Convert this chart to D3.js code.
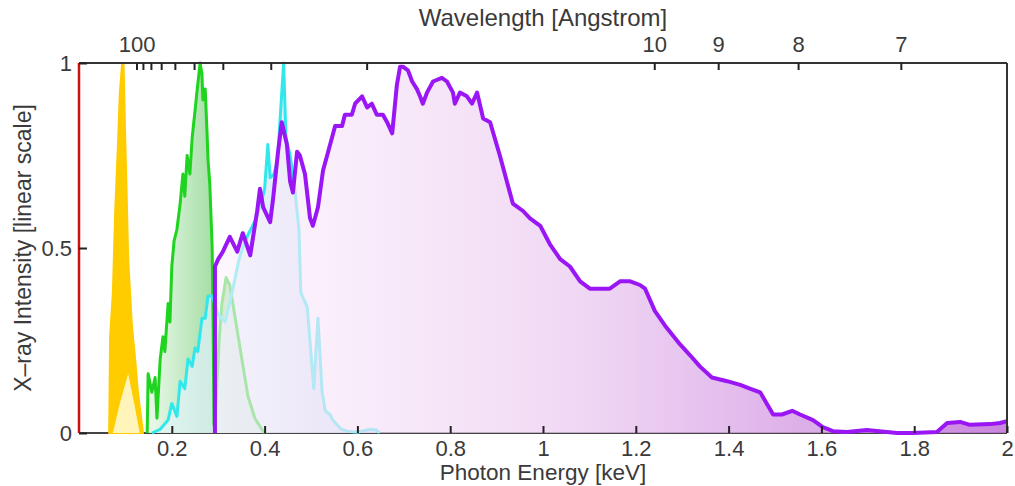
<!DOCTYPE html>
<html>
<head>
<meta charset="utf-8">
<script src="https://cdn.jsdelivr.net/npm/d3@7"></script>
<style>
  body { margin: 0; background: #fff; }
  svg text { font-family: "Liberation Sans", Arial, sans-serif; fill: #3a3a3a; }
</style>
</head>
<body>
<div id="chart"></div>
<script>
// photon energy [keV] vs relative intensity
var yellowOuter = [[0.065,0],[0.067,0.26],[0.073,0.38],[0.078,0.60],[0.084,0.78],[0.088,0.92],[0.093,1.0],
    [0.096,1.0],[0.099,0.83],[0.103,0.63],[0.106,0.47],[0.114,0.29],[0.121,0.20],[0.127,0.11],[0.138,0]];
var yellowInner = [[0.073,0],[0.088,0.08],[0.106,0.16],[0.119,0.08],[0.131,0]];

var green = [[0.147,0],[0.149,0.16],[0.157,0.11],[0.164,0.15],[0.168,0.04],[0.175,0.20],[0.181,0.26],
    [0.185,0.22],[0.192,0.35],[0.196,0.30],[0.200,0.45],[0.205,0.52],[0.211,0.55],[0.218,0.62],[0.224,0.70],
    [0.228,0.64],[0.233,0.75],[0.239,0.70],[0.244,0.80],[0.250,0.87],[0.254,0.92],[0.261,1.0],[0.265,0.97],
    [0.267,0.90],[0.272,0.93],[0.276,0.81],[0.278,0.74],[0.282,0.67],[0.287,0.50],[0.289,0.30],[0.291,0.02],
    [0.295,0.08],[0.302,0.25],[0.308,0.35],[0.317,0.42],[0.325,0.40],[0.338,0.30],[0.351,0.20],[0.364,0.10],
    [0.379,0.04],[0.394,0.01],[0.400,0]];

var cyan = [[0.157,0],[0.175,0.01],[0.192,0.035],[0.200,0.08],[0.211,0.045],[0.218,0.14],[0.228,0.12],
    [0.235,0.20],[0.244,0.18],[0.250,0.23],[0.256,0.22],[0.265,0.31],[0.272,0.31],[0.278,0.37],[0.287,0.37],
    [0.300,0.32],[0.315,0.30],[0.330,0.38],[0.345,0.47],[0.358,0.52],[0.370,0.55],[0.382,0.58],[0.392,0.62],
    [0.400,0.66],[0.407,0.78],[0.412,0.69],[0.420,0.70],[0.428,0.74],[0.434,0.86],[0.441,1.0],[0.446,0.80],
    [0.455,0.75],[0.465,0.66],[0.474,0.55],[0.478,0.38],[0.485,0.36],[0.492,0.34],[0.506,0.12],[0.515,0.31],
    [0.524,0.11],[0.531,0.06],[0.541,0.05],[0.547,0.035],[0.565,0.01],[0.578,0.005],[0.600,0.002],
    [0.627,0.01],[0.641,0.008],[0.648,0]];

var purple = [[0.293,0],[0.293,0.45],[0.300,0.47],[0.310,0.49],[0.325,0.53],[0.341,0.49],[0.353,0.54],
    [0.369,0.48],[0.384,0.60],[0.390,0.66],[0.397,0.61],[0.412,0.57],[0.418,0.63],[0.429,0.76],[0.437,0.84],
    [0.448,0.78],[0.455,0.68],[0.461,0.65],[0.470,0.76],[0.476,0.75],[0.487,0.70],[0.498,0.58],[0.504,0.56],
    [0.515,0.61],[0.526,0.71],[0.537,0.76],[0.552,0.83],[0.567,0.83],[0.573,0.86],[0.588,0.86],[0.595,0.89],
    [0.610,0.91],[0.621,0.88],[0.631,0.89],[0.642,0.86],[0.655,0.86],[0.664,0.84],[0.675,0.81],[0.685,0.94],
    [0.692,0.99],[0.698,0.99],[0.709,0.98],[0.718,0.95],[0.728,0.93],[0.735,0.91],[0.741,0.89],[0.750,0.92],
    [0.763,0.95],[0.782,0.96],[0.793,0.95],[0.806,0.92],[0.810,0.89],[0.821,0.92],[0.836,0.91],[0.847,0.89],
    [0.858,0.92],[0.871,0.85],[0.886,0.84],[0.907,0.75],[0.935,0.62],[0.957,0.60],[0.972,0.58],[0.994,0.56],
    [1.015,0.51],[1.037,0.47],[1.058,0.45],[1.080,0.41],[1.101,0.39],[1.123,0.39],[1.144,0.39],[1.166,0.41],
    [1.188,0.41],[1.209,0.40],[1.220,0.39],[1.241,0.33],[1.263,0.29],[1.295,0.24],[1.317,0.21],[1.338,0.18],
    [1.364,0.15],[1.397,0.14],[1.425,0.13],[1.446,0.12],[1.468,0.11],[1.496,0.05],[1.515,0.05],[1.537,0.06],
    [1.554,0.05],[1.582,0.035],[1.603,0.016],[1.625,0.005],[1.655,0.003],[1.698,0.008],[1.741,0.003],
    [1.763,0],[1.797,0],[1.849,0.003],[1.871,0.027],[1.899,0.03],[1.920,0.022],[1.963,0.024],[1.985,0.027],
    [2.0,0.032]];

var energyTicks = [0.2, 0.4, 0.6, 0.8, 1, 1.2, 1.4, 1.6, 1.8, 2];
var intensityTicks = [0, 0.5, 1];
var wavelengthTicks = [100, 90, 80, 70, 60, 50, 40, 30, 20, 10, 9, 8, 7];
var wavelengthLabels = [100, 10, 9, 8, 7];
var HC = 12.398; // keV * Angstrom

var width = 1015, height = 486;
var margin = { top: 63, right: 8, bottom: 53, left: 79 };

var svg = d3.select("#chart").append("svg")
    .attr("width", width)
    .attr("height", height);

var x = d3.scaleLinear().domain([0, 2]).range([margin.left, width - margin.right]);
var y = d3.scaleLinear().domain([0, 1]).range([height - margin.bottom, margin.top]);

var defs = svg.append("defs");
defs.append("clipPath").attr("id", "plot-clip")
    .append("rect")
    .attr("x", x(0)).attr("y", y(1) - 2)
    .attr("width", x(2) - x(0)).attr("height", y(0) - y(1) + 4);

function hGradient(id, x0, x1, stops) {
    var g = defs.append("linearGradient").attr("id", id)
        .attr("gradientUnits", "userSpaceOnUse")
        .attr("x1", x0).attr("x2", x1).attr("y1", 0).attr("y2", 0);
    stops.forEach(function (s) {
        g.append("stop").attr("offset", s[0]).attr("stop-color", s[1]).attr("stop-opacity", s[2]);
    });
}
hGradient("green-fill", x(0.15), x(0.3), [[0, "#e8f8e8", 0.9], [1, "#96d896", 0.9]]);
hGradient("cyan-fill", x(0.16), x(0.65), [[0, "#e6f6fb", 0.7], [1, "#c6dff6", 0.8]]);
hGradient("purple-fill", x(0.29), x(2), [[0, "#fcf2fc", 0.62], [0.45, "#ecccf1", 0.75], [1, "#c377da", 0.9]]);

var area = d3.area()
    .x(function (d) { return x(d[0]); })
    .y0(y(0))
    .y1(function (d) { return y(d[1]); });
var line = d3.line()
    .x(function (d) { return x(d[0]); })
    .y(function (d) { return y(d[1]); });

// frame line underneath the curves
svg.append("line").attr("x1", x(0)).attr("x2", x(2)).attr("y1", y(0)).attr("y2", y(0))
    .attr("stroke", "#444").attr("stroke-width", 2);

var plot = svg.append("g").attr("clip-path", "url(#plot-clip)");

plot.append("path").datum(yellowOuter).attr("d", area)
    .attr("fill", "#ffcc00").attr("stroke", "#ffcc00").attr("stroke-width", 2).attr("stroke-linejoin", "round");
plot.append("path").datum(yellowInner).attr("d", area).attr("fill", "#fff5bb");

plot.append("path").datum(green).attr("d", area).attr("fill", "url(#green-fill)");
plot.append("path").datum(cyan).attr("d", area).attr("fill", "url(#cyan-fill)");

plot.append("path").datum(green).attr("d", line)
    .attr("fill", "none").attr("stroke", "#1ed41e").attr("stroke-width", 3).attr("stroke-linejoin", "round");
plot.append("path").datum(cyan).attr("d", line)
    .attr("fill", "none").attr("stroke", "#30e8ec").attr("stroke-width", 3).attr("stroke-linejoin", "round");

plot.append("path").datum(purple).attr("d", area).attr("fill", "url(#purple-fill)");
plot.append("path").datum(purple).attr("d", line)
    .attr("fill", "none").attr("stroke", "#9a16f4").attr("stroke-width", 4).attr("stroke-linejoin", "round");

// box
svg.append("line").attr("x1", x(0)).attr("x2", x(2)).attr("y1", y(1)).attr("y2", y(1))
    .attr("stroke", "#333").attr("stroke-width", 2);
svg.append("line").attr("x1", x(2)).attr("x2", x(2)).attr("y1", y(1)).attr("y2", y(0))
    .attr("stroke", "#333").attr("stroke-width", 2);
svg.append("line").attr("x1", x(0)).attr("x2", x(0)).attr("y1", y(1)).attr("y2", y(0))
    .attr("stroke", "#cc1111").attr("stroke-width", 2.5);

var fmt = d3.format("~g");

var bottomAxis = svg.append("g")
    .attr("transform", "translate(0," + y(0) + ")")
    .call(d3.axisBottom(x).tickValues(energyTicks).tickFormat(fmt).tickSize(-7).tickPadding(7));

var leftAxis = svg.append("g")
    .attr("transform", "translate(" + x(0) + ",0)")
    .call(d3.axisLeft(y).tickValues(intensityTicks).tickFormat(fmt).tickSize(-8).tickPadding(7));

var topAxis = svg.append("g")
    .attr("transform", "translate(0," + y(1) + ")")
    .call(d3.axisTop(x)
        .tickValues(wavelengthTicks.map(function (l) { return HC / l; }))
        .tickFormat(function (e) {
            var l = Math.round(HC / e);
            return wavelengthLabels.indexOf(l) >= 0 ? l : "";
        })
        .tickSize(-7).tickPadding(11));

[bottomAxis, leftAxis, topAxis].forEach(function (g) {
    g.select(".domain").remove();
    g.selectAll(".tick line").attr("stroke", "#222").attr("stroke-width", 2);
    g.selectAll(".tick text").attr("font-size", 22).attr("fill", "#3a3a3a");
});

svg.append("text")
    .attr("x", (x(0) + x(2)) / 2).attr("y", 26)
    .attr("text-anchor", "middle").attr("font-size", 24)
    .text("Wavelength [Angstrom]");

svg.append("text")
    .attr("x", (x(0) + x(2)) / 2).attr("y", 480)
    .attr("text-anchor", "middle").attr("font-size", 22.5)
    .text("Photon Energy [keV]");

svg.append("text")
    .attr("transform", "translate(31," + (y(0) + y(1)) / 2 + ") rotate(-90)")
    .attr("text-anchor", "middle").attr("font-size", 23)
    .text("X–ray Intensity [linear scale]");
</script>
</body>
</html>
